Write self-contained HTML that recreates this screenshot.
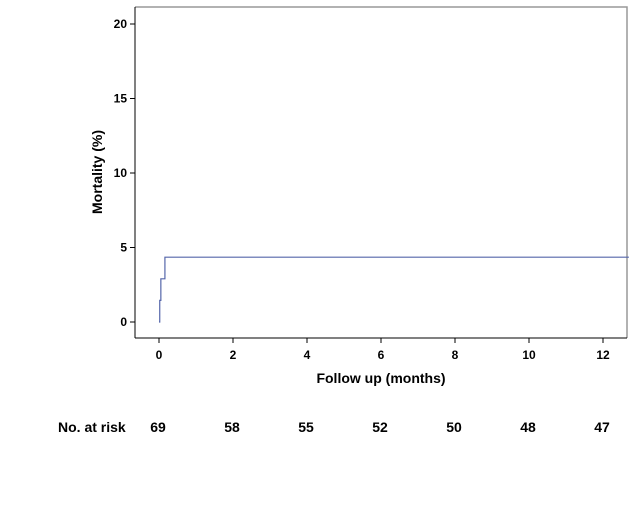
<!DOCTYPE html>
<html><head><meta charset="utf-8"><style>
body{margin:0;background:#fff;font-family:"Liberation Sans",Arial,sans-serif;}
svg text{font-family:"Liberation Sans",Arial,sans-serif;font-weight:bold;fill:#000;}
</style></head><body>
<svg id="chart" width="631" height="506" xmlns="http://www.w3.org/2000/svg">
<rect x="0" y="0" width="631" height="506" fill="#fff"/>
<g id="g"></g>
</svg>
<script>
const xTicks=[0,2,4,6,8,10,12];
const yTicks=[0,5,10,15,20];
const stepTimes=[0,0.02,0.05,0.16,12.7];
const stepValues=[0,1.45,2.9,4.35,4.35];
const riskLabels=["69","58","55","52","50","48","47"];
const riskTimes=[0,2,4,6,8,10,12];
const NS="http://www.w3.org/2000/svg";
const g=document.getElementById('g');
const X=v=>159+v*37;
const Y=v=>322-v*14.9;
function el(t,a,txt){const e=document.createElementNS(NS,t);for(const k in a)e.setAttribute(k,a[k]);if(txt!==undefined)e.textContent=txt;g.appendChild(e);return e;}
let f=el('path',{d:'M135,7 L627,7 L627,338',fill:'none',stroke:'#999',"stroke-width":1.5});


let ya=el('line',{x1:135,y1:7,x2:135,y2:338,stroke:'#000',"stroke-width":1});


let xa=el('line',{x1:135,y1:338,x2:627,y2:338,stroke:'#000',"stroke-width":1});


yTicks.forEach(v=>{
 let t=el('line',{x1:130,y1:Y(v),x2:135,y2:Y(v),stroke:'#000'});
 
 
 let l=el('text',{x:127,y:Y(v)+4,"text-anchor":"end","font-size":12},String(v));
 
 
});
xTicks.forEach(v=>{
 let t=el('line',{x1:X(v),y1:338,x2:X(v),y2:343,stroke:'#000'});
 
 
 let l=el('text',{x:X(v),y:359,"text-anchor":"middle","font-size":12},String(v));
 
 
});
let d='M'+X(stepTimes[0])+','+Y(stepValues[0]);
for(let i=1;i<stepTimes.length;i++){d+=' L'+X(stepTimes[i])+','+Y(stepValues[i-1])+' L'+X(stepTimes[i])+','+Y(stepValues[i]);}
let p=el('path',{d:d,fill:'none',stroke:'#5566aa',"stroke-width":1.2});


let yt=el('text',{x:102,y:172,"text-anchor":"middle","font-size":14,transform:'rotate(-90 102 172)'},'Mortality (%)');


let xt=el('text',{x:381,y:383,"text-anchor":"middle","font-size":14},'Follow up (months)');


let rt=el('text',{x:58,y:432,"font-size":14},'No. at risk');


riskLabels.forEach((s,i)=>{
 let r=el('text',{x:X(riskTimes[i])-1,y:432,"text-anchor":"middle","font-size":14},s);
 
 
});
</script>
</body></html>
